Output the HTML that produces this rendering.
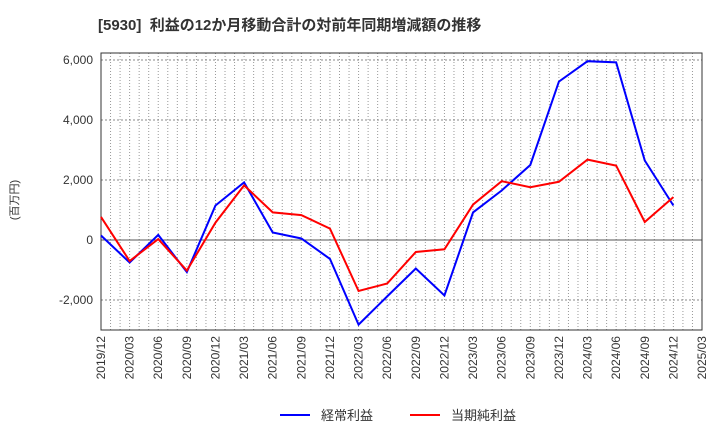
<!DOCTYPE html>
<html><head><meta charset="utf-8"><style>
body{margin:0;background:#fff;font-family:"Liberation Sans","Noto Sans CJK JP",sans-serif;}
</style></head><body>
<svg id="c" width="720" height="440" xmlns="http://www.w3.org/2000/svg">
<text x="98" y="30" font-size="15" font-weight="bold" fill="#333" xml:space="preserve" style="white-space:pre">[5930]  利益の12か月移動合計の対前年同期増減額の推移</text>
<text transform="translate(18,200) rotate(-90)" text-anchor="middle" font-size="11" fill="#333">(百万円)</text>
<g id="grid"></g><g id="axes"></g><g id="series"></g>
<g>
<line x1="280" y1="415" x2="310" y2="415" stroke="#00f" stroke-width="2"/>
<text x="321" y="420" font-size="13" fill="#333">経常利益</text>
<line x1="410" y1="415" x2="440" y2="415" stroke="#f00" stroke-width="2"/>
<text x="451" y="420" font-size="13" fill="#333">当期純利益</text>
</g>
</svg>
<script>
const categories=["2019/12","2020/03","2020/06","2020/09","2020/12","2021/03","2021/06","2021/09","2021/12","2022/03","2022/06","2022/09","2022/12","2023/03","2023/06","2023/09","2023/12","2024/03","2024/06","2024/09","2024/12","2025/03"];
const keijoValues=[150,-750,170,-1070,1150,1920,250,50,-630,-2820,-1880,-950,-1850,920,1650,2500,5280,5960,5920,2650,1150];
const junriekiValues=[770,-700,30,-1020,580,1820,920,830,380,-1700,-1450,-400,-310,1180,1960,1760,1940,2680,2480,600,1430];
const yTicks=[-2000,0,2000,4000,6000];
const yTickLabels=["-2,000","0","2,000","4,000","6,000"];
const L=101,R=702,T=53,B=330,yMin=-3000,yMax=6233;
const xs=i=>L+(R-L)*i/(categories.length-1);
const ys=v=>B-(v-yMin)/(yMax-yMin)*(B-T);
const NS="http://www.w3.org/2000/svg";
function mk(p,tag,a){const e=document.createElementNS(NS,tag);for(const k in a)e.setAttribute(k,a[k]);p.appendChild(e);return e;}
const grid=document.getElementById('grid'),axes=document.getElementById('axes'),ser=document.getElementById('series');
for(let m=1;m<(categories.length-1)*3;m++){const x=L+(R-L)*m/((categories.length-1)*3);
const g=mk(grid,'line',{x1:x,x2:x,y1:T,y2:B,stroke:'#999','stroke-dasharray':'1,2','stroke-width':1});

}
yTicks.forEach((v,i)=>{const y=ys(v);
const g=mk(grid,'line',{x1:L,x2:R,y1:y,y2:y,stroke:v===0?'#555':'#888','stroke-dasharray':v===0?'':'2,2','stroke-width':1});


const t=mk(axes,'text',{x:L-8,y:y+4,'text-anchor':'end','font-size':12,fill:'#333'});t.textContent=yTickLabels[i];

});
const fr=mk(axes,'rect',{x:L,y:T,width:R-L,height:B-T,fill:'none',stroke:'#333','stroke-width':1});


categories.forEach((c,i)=>{const x=xs(i);
const t=mk(axes,'text',{transform:`translate(${x+4},${B+6}) rotate(-90)`,'text-anchor':'end','font-size':12,fill:'#333'});t.textContent=c;

});
function line(vals,col,name){const p=mk(ser,'polyline',{points:vals.map((v,i)=>xs(i)+','+ys(v)).join(' '),fill:'none',stroke:col,'stroke-width':2});

}
line(keijoValues,'#0000ff','series-keijo-rieki');
line(junriekiValues,'#ff0000','series-touki-junrieki');
</script>
</body></html>
